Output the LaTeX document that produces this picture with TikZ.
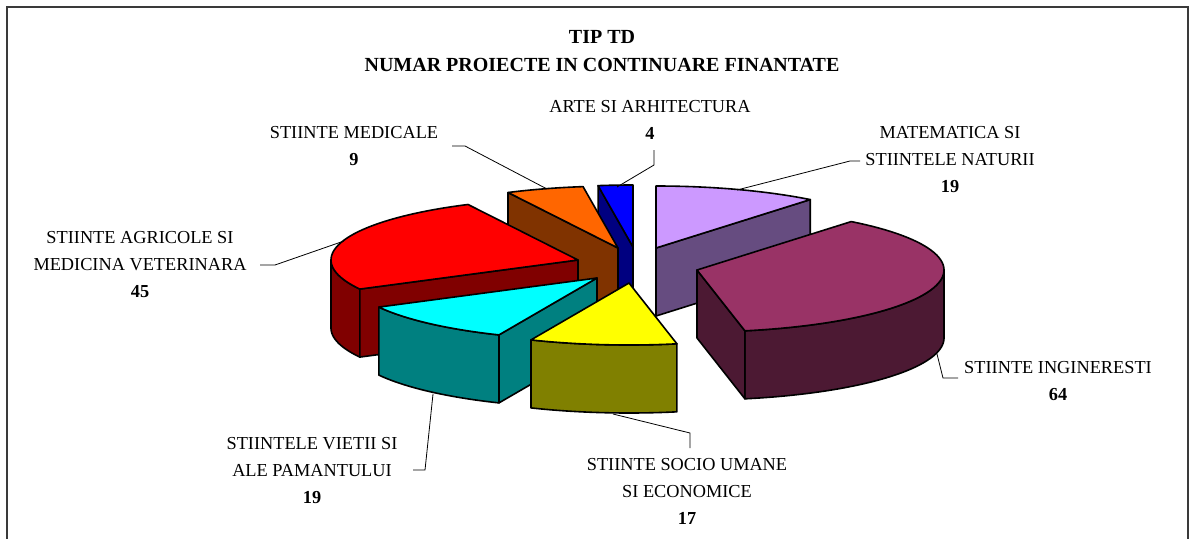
\documentclass[tikz,border=0pt]{standalone}
\usepackage{fontspec}
\setmainfont{Liberation Serif}
\definecolor{frameC}{HTML}{3A3A3A}
\definecolor{matTop}{HTML}{CC99FF}\definecolor{matSide}{HTML}{664C80}
\definecolor{ingTop}{HTML}{993366}\definecolor{ingSide}{HTML}{4C1933}
\definecolor{socTop}{HTML}{FFFF00}\definecolor{socSide}{HTML}{808000}
\definecolor{vieTop}{HTML}{00FFFF}\definecolor{vieSide}{HTML}{008080}
\definecolor{agrTop}{HTML}{FF0000}\definecolor{agrSide}{HTML}{800000}
\definecolor{medTop}{HTML}{FF6600}\definecolor{medSide}{HTML}{803300}
\definecolor{artTop}{HTML}{0000FF}\definecolor{artSide}{HTML}{000080}
\def\pieA{247}\def\pieB{62}\def\pieH{68}
\newcommand{\pietop}[5]{%
  \filldraw[fill=#5, pieline] (#1,#2) -- plot[domain=#3:#4, samples=60] ({#1+\pieA*sin(\x)},{#2-\pieB*cos(\x)}) -- cycle;}
\newcommand{\pieradial}[4]{%
  \filldraw[fill=#4, pieline] (#1,#2) -- ({#1+\pieA*sin(#3)},{#2-\pieB*cos(#3)}) -- ++(0,\pieH) -- (#1,{#2+\pieH}) -- cycle;}
\newcommand{\piecurve}[5]{%
  \filldraw[fill=#5, pieline] plot[domain=#3:#4, samples=60] ({#1+\pieA*sin(\x)},{#2-\pieB*cos(\x)}) -- plot[domain=#4:#3, samples=60] ({#1+\pieA*sin(\x)},{#2+\pieH-\pieB*cos(\x)}) -- cycle;}
\tikzset{
  pieline/.style={draw=black, line width=1.6pt, line join=round},
  leader/.style={draw=black, line width=0.8pt},
  lbl/.style={inner sep=0pt, align=center, font=\fontsize{18.3}{27}\selectfont},
  ttl/.style={inner sep=0pt, align=center, font=\fontsize{20}{28}\selectfont\bfseries},
}
\begin{document}
\begin{tikzpicture}[x=1pt, y=-1pt]
\useasboundingbox (0,0) rectangle (1190,538);
\draw[frameC, line width=1.6pt] (7,540) -- (7,7) -- (1188,7) -- (1188,540);
% title
\node[ttl] (title) at (602,51) {TIP TD\\NUMAR PROIECTE IN CONTINUARE FINANTATE};
% slices (back to front)
% ARTE SI ARHITECTURA
\pieradial{633}{247}{351.864}{artSide}
\pietop{633}{247}{351.864}{360}{artTop}
% STIINTE MEDICALE
\pieradial{618}{248}{333.56}{medSide}
\pietop{618}{248}{333.56}{351.864}{medTop}
% MATEMATICA
\pieradial{656}{248}{38.644}{matSide}
\pietop{656}{248}{0}{38.644}{matTop}
% AGRICOLE
\piecurve{578}{260}{242.034}{270}{agrSide}
\pieradial{578}{260}{242.034}{agrSide}
\pietop{578}{260}{242.034}{333.56}{agrTop}
% INGINERESTI
\piecurve{697}{270}{90}{168.814}{ingSide}
\pieradial{697}{270}{168.814}{ingSide}
\pietop{697}{270}{38.644}{168.814}{ingTop}
% VIETII
\piecurve{597}{278}{203.39}{242.034}{vieSide}
\pieradial{597}{278}{203.39}{vieSide}
\pietop{597}{278}{203.39}{242.034}{vieTop}
% SOCIO
\piecurve{629}{283}{168.814}{203.39}{socSide}
\pietop{629}{283}{168.814}{203.39}{socTop}
% labels
\node[lbl] (lArt) at (650,120) {ARTE SI ARHITECTURA\\\textbf{4}};
\node[lbl] (lMed) at (354,146.5) {STIINTE MEDICALE\\\textbf{9}};
\node[lbl] (lMat) at (950,160) {MATEMATICA SI\\STIINTELE NATURII\\\textbf{19}};
\node[lbl] (lAgr) at (140,265) {STIINTE AGRICOLE SI\\MEDICINA VETERINARA\\\textbf{45}};
\node[lbl] (lIng) at (1058,381) {STIINTE INGINERESTI\\\textbf{64}};
\node[lbl] (lSoc) at (687,491) {STIINTE SOCIO UMANE\\SI ECONOMICE\\\textbf{17}};
\node[lbl] (lVie) at (312,471) {STIINTELE VIETII SI\\ALE PAMANTULUI\\\textbf{19}};
% leader coordinates
\coordinate (artA) at (654,150); \coordinate (artB) at (654,165); \coordinate (artP) at (617,187);
\coordinate (medA) at (452,146); \coordinate (medB) at (465,146); \coordinate (medP) at (547,189);
\coordinate (matA) at (860,161); \coordinate (matB) at (850,161); \coordinate (matP) at (737,190);
\coordinate (agrA) at (260,265); \coordinate (agrB) at (275,265); \coordinate (agrP) at (344,241);
\coordinate (ingA) at (958,378); \coordinate (ingB) at (943,378); \coordinate (ingP) at (937,354);
\coordinate (socA) at (690,448); \coordinate (socB) at (690,433); \coordinate (socP) at (613,414);
\coordinate (vieA) at (413,470); \coordinate (vieB) at (425,470); \coordinate (vieP) at (433,394);
\draw[leader] (artA) -- (artB) -- (artP);
\draw[leader] (medA) -- (medB) -- (medP);
\draw[leader] (matA) -- (matB) -- (matP);
\draw[leader] (agrA) -- (agrB) -- (agrP);
\draw[leader] (ingA) -- (ingB) -- (ingP);
\draw[leader] (socA) -- (socB) -- (socP);
\draw[leader] (vieA) -- (vieB) -- (vieP);
\end{tikzpicture}
\end{document}
